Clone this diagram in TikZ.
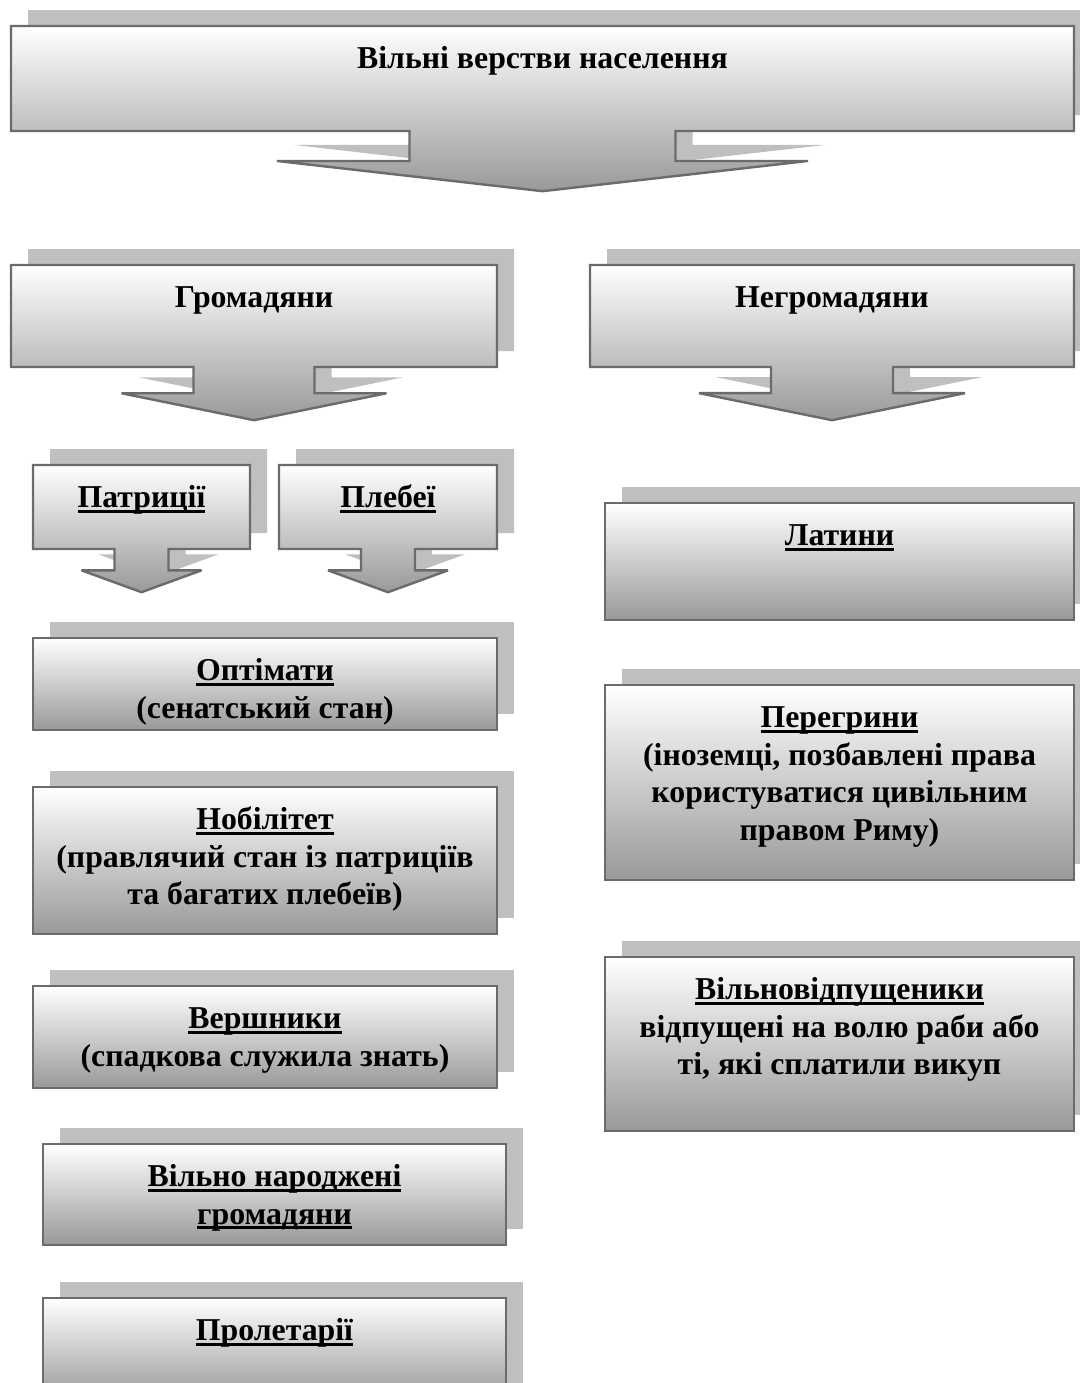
\documentclass[tikz,border=0pt]{standalone}
\usepackage{fontspec}
\setmainfont{Liberation Serif}
\usetikzlibrary{shapes.arrows,shadows}
\definecolor{frame}{HTML}{6B6B6B}
\definecolor{shadowgray}{HTML}{BFBFBF}
% text of a pane: width, height, lines (top aligned)
\newcommand{\panetext}[3]{\parbox[c][#2][t]{#1}{\centering\rule{0pt}{21.3pt}#3}}
\newcommand{\hdline}[1]{\leavevmode\setbox0=\hbox{#1}\rlap{\rule[-2.6pt]{\wd0}{1.5pt}}\box0}
\tikzset{
  pane/.style={draw=frame, line width=1.2pt, miter limit=2, top color=white, bottom color=black!40,
    inner sep=0pt, font=\fontsize{15.9}{18.75}\selectfont\bfseries,
    drop shadow={shadow xshift=8.5pt, shadow yshift=8pt, fill=shadowgray, opacity=1}},
  downcall/.style n args={4}{pane, arrow box,
    arrow box north arrow=-1pt, arrow box east arrow=-1pt, arrow box west arrow=-1pt,
    arrow box shaft width=#1, arrow box head extend=#2,
    arrow box south arrow=#3, arrow box tip angle=#4}
}
\begin{document}
\begin{tikzpicture}[x=0.5pt,y=-0.5pt]
  \useasboundingbox (0,0) rectangle (1080,1383);
  \clip (0,0) rectangle (1080,1383);
  % callouts
  \node[downcall={133pt}{66.25pt}{29.5pt}{167}] (vilni) at (542.5,78.5)
    {\panetext{531.5pt}{52.5pt}{Вільні верстви населення}};
  \node[downcall={60.5pt}{36pt}{26pt}{157}] (gromadyany) at (254,316)
    {\panetext{243pt}{51pt}{Громадяни}};
  \node[downcall={61pt}{36pt}{26pt}{157}] (negromadyany) at (832,316)
    {\panetext{242pt}{51pt}{Негромадяни}};
  \node[downcall={27pt}{16.5pt}{21pt}{140}] (patrytsii) at (141.5,507)
    {\panetext{108.5pt}{42pt}{\hdline{Патриції}}};
  \node[downcall={27pt}{16.5pt}{21pt}{140}] (plebei) at (388,507)
    {\panetext{109pt}{42pt}{\hdline{Плебеї}}};
  % left column
  \node[pane] (optimaty) at (265,684)
    {\panetext{232pt}{46pt}{\hdline{Оптімати}\\(сенатський стан)}};
  \node[pane] (nobilitet) at (265,860.5)
    {\panetext{232pt}{73.5pt}{\hdline{Нобілітет}\\(правлячий стан із патриціїв\\та багатих плебеїв)}};
  \node[pane] (vershnyky) at (265,1037)
    {\panetext{232pt}{51pt}{\hdline{Вершники}\\(спадкова служила знать)}};
  \node[pane] (vilnonar) at (274.5,1194.5)
    {\panetext{231.5pt}{50.5pt}{\hdline{Вільно народжені}\\\hdline{громадяни}}};
  \node[pane] (proletarii) at (274.5,1349)
    {\panetext{231.5pt}{51pt}{\hdline{Пролетарії}}};
  % right column
  \node[pane] (latyny) at (839.5,561.5)
    {\panetext{234.5pt}{58.5pt}{\hdline{Латини}}};
  \node[pane] (perehryny) at (839.5,782.5)
    {\panetext{234.5pt}{97.5pt}{\hdline{Перегрини}\\(іноземці, позбавлені права\\користуватися цивільним\\правом Риму)}};
  \node[pane] (vilnovidp) at (839.5,1044)
    {\panetext{234.5pt}{87pt}{\hdline{Вільновідпущеники}\\відпущені на волю раби або\\ті, які сплатили викуп}};
\end{tikzpicture}
\end{document}
